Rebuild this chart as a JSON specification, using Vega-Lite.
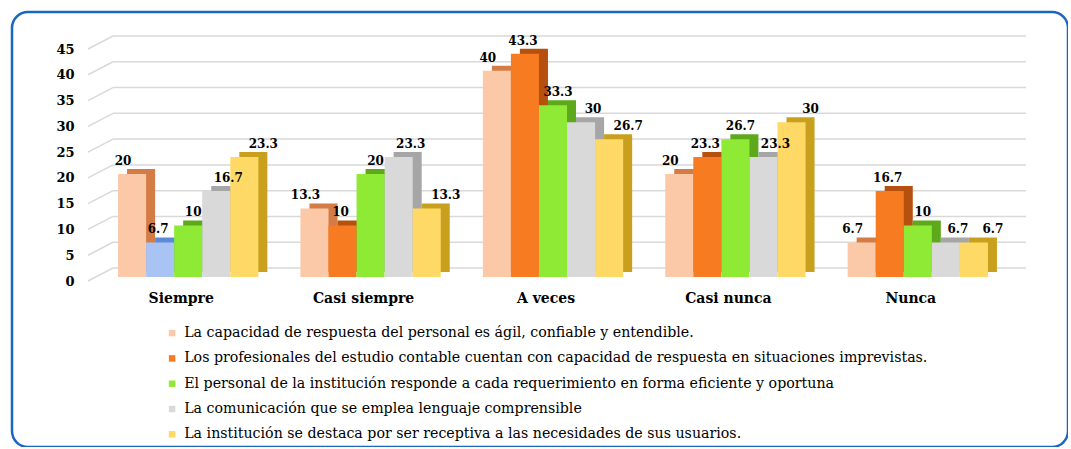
{
  "$schema": "https://vega.github.io/schema/vega-lite/v6.json",
  "width": 1056,
  "height": 435,
  "autosize": {"type": "none"},
  "padding": {"left": 12, "top": 12, "right": 0, "bottom": 0},
  "background": "white",
  "config": {
    "font": "DejaVu Serif",
    "view": {"stroke": "#1a66c2", "strokeWidth": 2.5, "cornerRadius": 16, "fill": "white"},
    "legend": {"padding": 0},
    "axis": {"domain": false, "ticks": false, "grid": false, "title": null, "labelColor": "black", "labelFont": "DejaVu Serif", "labelFontWeight": "bold"}
  },
  "datasets": {
    "bars": [
      {"categoria": "Siempre", "serie": "La capacidad de respuesta del personal es ágil, confiable y entendible.", "valor": 20},
      {"categoria": "Siempre", "serie": "Los profesionales del estudio contable cuentan con capacidad de respuesta en situaciones imprevistas.", "valor": 6.7},
      {"categoria": "Siempre", "serie": "El personal de la institución responde a cada requerimiento en forma eficiente y oportuna", "valor": 10},
      {"categoria": "Siempre", "serie": "La comunicación que se emplea  lenguaje comprensible", "valor": 16.7},
      {"categoria": "Siempre", "serie": "La institución se destaca por ser receptiva a las necesidades de sus  usuarios.", "valor": 23.3},
      {"categoria": "Casi siempre", "serie": "La capacidad de respuesta del personal es ágil, confiable y entendible.", "valor": 13.3},
      {"categoria": "Casi siempre", "serie": "Los profesionales del estudio contable cuentan con capacidad de respuesta en situaciones imprevistas.", "valor": 10},
      {"categoria": "Casi siempre", "serie": "El personal de la institución responde a cada requerimiento en forma eficiente y oportuna", "valor": 20},
      {"categoria": "Casi siempre", "serie": "La comunicación que se emplea  lenguaje comprensible", "valor": 23.3},
      {"categoria": "Casi siempre", "serie": "La institución se destaca por ser receptiva a las necesidades de sus  usuarios.", "valor": 13.3},
      {"categoria": "A veces", "serie": "La capacidad de respuesta del personal es ágil, confiable y entendible.", "valor": 40},
      {"categoria": "A veces", "serie": "Los profesionales del estudio contable cuentan con capacidad de respuesta en situaciones imprevistas.", "valor": 43.3},
      {"categoria": "A veces", "serie": "El personal de la institución responde a cada requerimiento en forma eficiente y oportuna", "valor": 33.3},
      {"categoria": "A veces", "serie": "La comunicación que se emplea  lenguaje comprensible", "valor": 30},
      {"categoria": "A veces", "serie": "La institución se destaca por ser receptiva a las necesidades de sus  usuarios.", "valor": 26.7},
      {"categoria": "Casi nunca", "serie": "La capacidad de respuesta del personal es ágil, confiable y entendible.", "valor": 20},
      {"categoria": "Casi nunca", "serie": "Los profesionales del estudio contable cuentan con capacidad de respuesta en situaciones imprevistas.", "valor": 23.3},
      {"categoria": "Casi nunca", "serie": "El personal de la institución responde a cada requerimiento en forma eficiente y oportuna", "valor": 26.7},
      {"categoria": "Casi nunca", "serie": "La comunicación que se emplea  lenguaje comprensible", "valor": 23.3},
      {"categoria": "Casi nunca", "serie": "La institución se destaca por ser receptiva a las necesidades de sus  usuarios.", "valor": 30},
      {"categoria": "Nunca", "serie": "La capacidad de respuesta del personal es ágil, confiable y entendible.", "valor": 6.7},
      {"categoria": "Nunca", "serie": "Los profesionales del estudio contable cuentan con capacidad de respuesta en situaciones imprevistas.", "valor": 16.7},
      {"categoria": "Nunca", "serie": "El personal de la institución responde a cada requerimiento en forma eficiente y oportuna", "valor": 10},
      {"categoria": "Nunca", "serie": "La comunicación que se emplea  lenguaje comprensible", "valor": 6.7},
      {"categoria": "Nunca", "serie": "La institución se destaca por ser receptiva a las necesidades de sus  usuarios.", "valor": 6.7}
    ],
    "grid": [
      {"v": 0}, {"v": 5}, {"v": 10}, {"v": 15}, {"v": 20},
      {"v": 25}, {"v": 30}, {"v": 35}, {"v": 40}, {"v": 45}
    ]
  },
  "resolve": {"scale": {"x": "independent", "xOffset": "independent", "color": "independent"}},
  "layer": [
    {
      "data": {"name": "grid"},
      "mark": {"type": "rule", "color": "#d9d9d9", "strokeWidth": 1.5, "yOffset": 4, "y2Offset": -9},
      "encoding": {
        "x": {"datum": 0, "type": "quantitative", "scale": {"domain": [0, 1], "range": [76, 101]}, "axis": null},
        "x2": {"datum": 1},
        "y": {"field": "v", "type": "quantitative", "scale": {"domain": [0, 45], "range": [265, 33], "nice": false, "zero": true}},
        "y2": {"field": "v"}
      }
    },
    {
      "data": {"name": "grid"},
      "mark": {"type": "rule", "color": "#d9d9d9", "strokeWidth": 1.5, "yOffset": -9},
      "encoding": {
        "x": {"datum": 0, "type": "quantitative", "scale": {"domain": [0, 1], "range": [101, 1014]}, "axis": null},
        "x2": {"datum": 1},
        "y": {"field": "v", "type": "quantitative"}
      }
    },
    {
      "data": {"name": "bars"},
      "mark": {"type": "bar", "yOffset": -5, "y2Offset": -5},
      "encoding": {
        "x": {"field": "categoria", "type": "nominal", "sort": ["Siempre", "Casi siempre", "A veces", "Casi nunca", "Nunca"], "scale": {"range": [85, 997], "paddingInner": 0.2308, "paddingOuter": 0.1154}, "axis": null},
        "xOffset": {
          "field": "serie", "type": "nominal",
          "sort": [
            "La capacidad de respuesta del personal es ágil, confiable y entendible.",
            "Los profesionales del estudio contable cuentan con capacidad de respuesta en situaciones imprevistas.",
            "El personal de la institución responde a cada requerimiento en forma eficiente y oportuna",
            "La comunicación que se emplea  lenguaje comprensible",
            "La institución se destaca por ser receptiva a las necesidades de sus  usuarios."
          ],
          "scale": {"paddingInner": 0, "paddingOuter": 0, "range": [9, 149.3]}
        },
        "y": {"field": "valor", "type": "quantitative"},
        "color": {
          "field": "serie", "type": "nominal", "legend": null,
          "condition": {"test": "datum.categoria === 'Siempre' && datum.valor === 6.7", "value": "#5c8ad6"},
          "scale": {
            "domain": [
              "La capacidad de respuesta del personal es ágil, confiable y entendible.",
              "Los profesionales del estudio contable cuentan con capacidad de respuesta en situaciones imprevistas.",
              "El personal de la institución responde a cada requerimiento en forma eficiente y oportuna",
              "La comunicación que se emplea  lenguaje comprensible",
              "La institución se destaca por ser receptiva a las necesidades de sus  usuarios."
            ],
            "range": ["#d47c45", "#b5500f", "#5ea81c", "#a6a6a6", "#c9a01e"]
          }
        }
      }
    },
    {
      "data": {"name": "bars"},
      "mark": {"type": "bar"},
      "encoding": {
        "x": {
          "field": "categoria", "type": "nominal",
          "sort": ["Siempre", "Casi siempre", "A veces", "Casi nunca", "Nunca"],
          "scale": {"range": [85, 997], "paddingInner": 0.2308, "paddingOuter": 0.1154},
          "axis": {"orient": "bottom", "labelFontSize": 14, "labelPadding": 0, "labelBaseline": "middle", "labelAngle": 0, "offset": -149, "labelOffset": -7}
        },
        "xOffset": {
          "field": "serie", "type": "nominal",
          "sort": [
            "La capacidad de respuesta del personal es ágil, confiable y entendible.",
            "Los profesionales del estudio contable cuentan con capacidad de respuesta en situaciones imprevistas.",
            "El personal de la institución responde a cada requerimiento en forma eficiente y oportuna",
            "La comunicación que se emplea  lenguaje comprensible",
            "La institución se destaca por ser receptiva a las necesidades de sus  usuarios."
          ],
          "scale": {"paddingInner": 0, "paddingOuter": 0}
        },
        "y": {
          "field": "valor", "type": "quantitative",
          "axis": {"title": null, "orient": "left", "values": [0, 5, 10, 15, 20, 25, 30, 35, 40, 45], "labelFontSize": 13, "labelPadding": 0, "offset": -62, "labelOffset": 4}
        },
        "color": {
          "field": "serie", "type": "nominal",
          "condition": {"test": "datum.categoria === 'Siempre' && datum.valor === 6.7", "value": "#a9c4f4"},
          "scale": {
            "domain": [
              "La capacidad de respuesta del personal es ágil, confiable y entendible.",
              "Los profesionales del estudio contable cuentan con capacidad de respuesta en situaciones imprevistas.",
              "El personal de la institución responde a cada requerimiento en forma eficiente y oportuna",
              "La comunicación que se emplea  lenguaje comprensible",
              "La institución se destaca por ser receptiva a las necesidades de sus  usuarios."
            ],
            "range": ["#fbc9a7", "#f77b21", "#8fea35", "#d9d9d9", "#ffd966"]
          },
          "legend": {
            "title": null, "orient": "none", "legendX": 153, "legendY": 314,
            "direction": "vertical", "symbolType": "square", "symbolSize": 42,
            "symbolStrokeWidth": 0, "labelFont": "DejaVu Serif", "labelFontSize": 14.2,
            "labelFontWeight": "normal", "labelColor": "black", "labelLimit": 1000, "rowPadding": 10.3, "labelOffset": 5
          }
        }
      }
    },
    {
      "data": {"name": "bars"},
      "mark": {"type": "text", "font": "DejaVu Serif", "fontWeight": "bold", "fontSize": 12, "color": "black", "baseline": "alphabetic", "dy": -9, "dx": 5},
      "encoding": {
        "x": {"field": "categoria", "type": "nominal", "sort": ["Siempre", "Casi siempre", "A veces", "Casi nunca", "Nunca"], "scale": {"range": [85, 997], "paddingInner": 0.2308, "paddingOuter": 0.1154}, "axis": null},
        "xOffset": {
          "field": "serie", "type": "nominal",
          "sort": [
            "La capacidad de respuesta del personal es ágil, confiable y entendible.",
            "Los profesionales del estudio contable cuentan con capacidad de respuesta en situaciones imprevistas.",
            "El personal de la institución responde a cada requerimiento en forma eficiente y oportuna",
            "La comunicación que se emplea  lenguaje comprensible",
            "La institución se destaca por ser receptiva a las necesidades de sus  usuarios."
          ],
          "scale": {"paddingInner": 0, "paddingOuter": 0}
        },
        "y": {"field": "valor", "type": "quantitative"},
        "text": {"field": "valor", "type": "quantitative"}
      }
    }
  ]
}
